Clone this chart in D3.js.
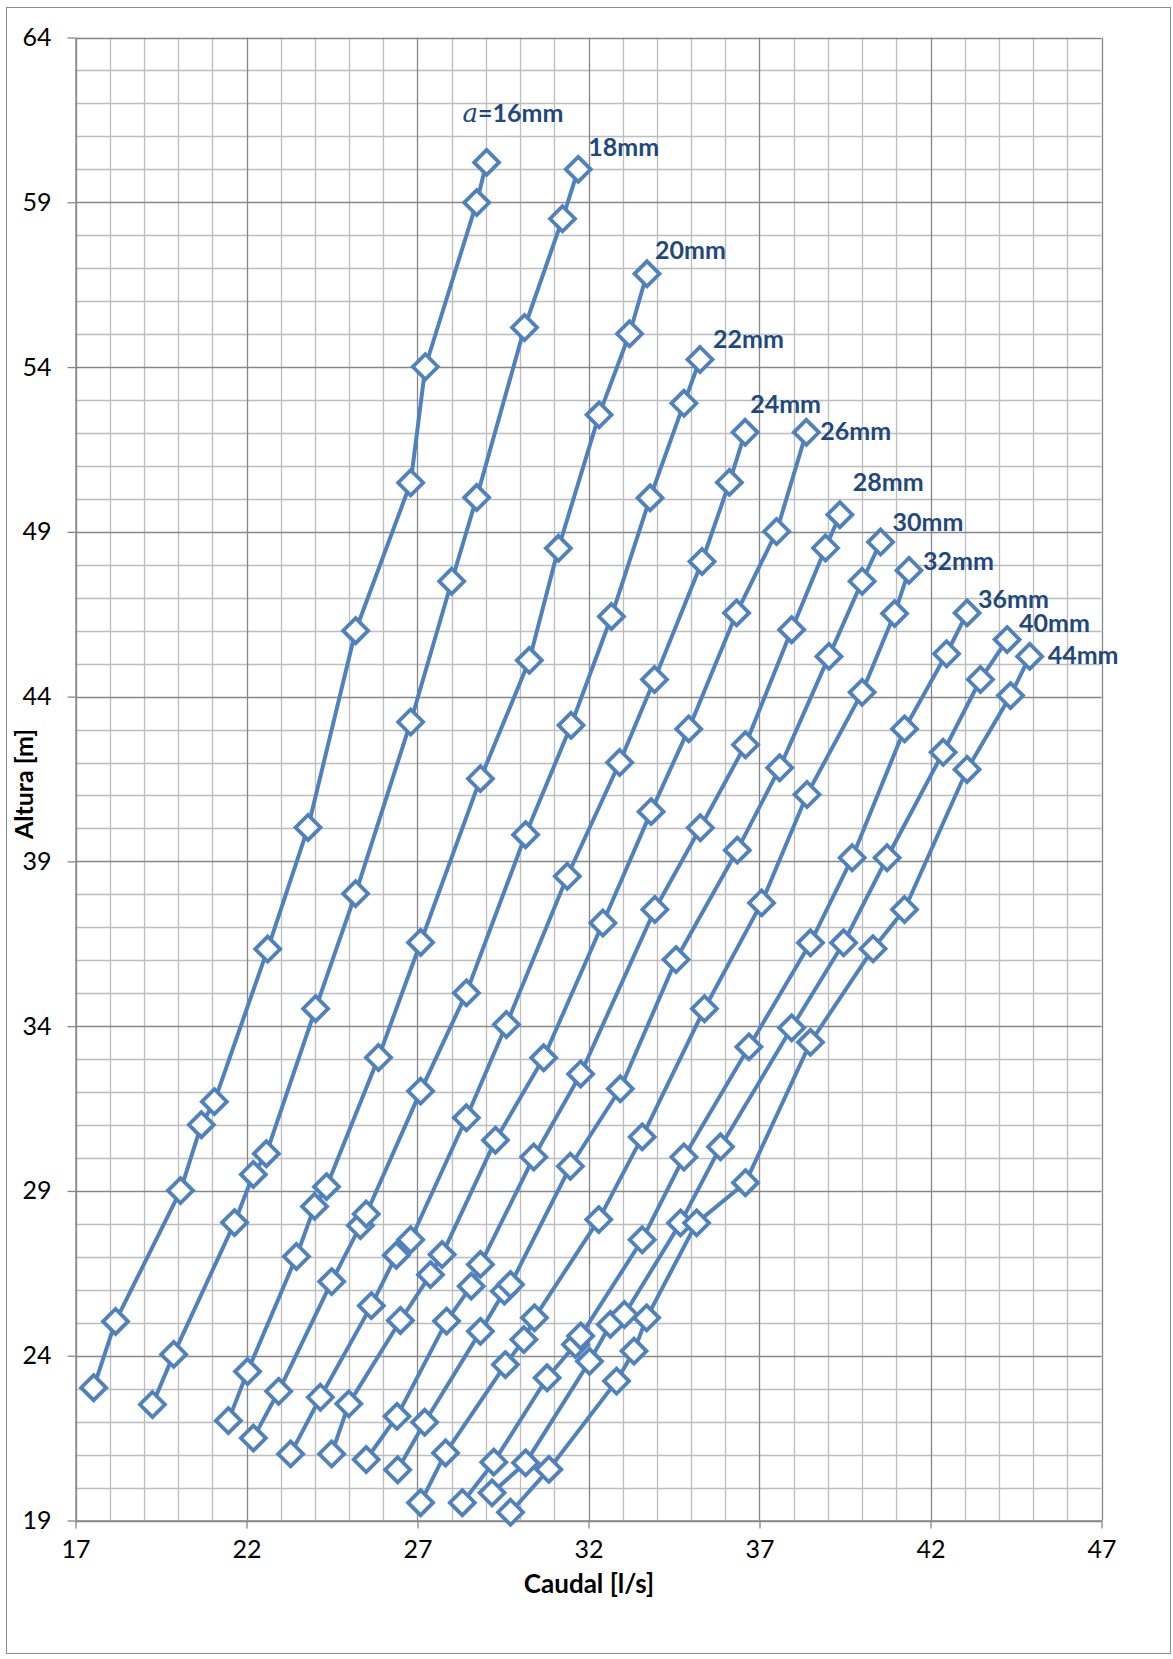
<!DOCTYPE html>
<html>
<head>
<meta charset="utf-8">
<script src="https://cdn.jsdelivr.net/npm/d3@7"></script>
<style>
  body { margin: 0; background: #fff; }
  svg { display: block; }
</style>
</head>
<body>
<div id="chart"></div>
<script>
// series labels
const seriesLabels = ['16mm', '18mm', '20mm', '22mm', '24mm', '26mm', '28mm', '30mm', '32mm', '36mm', '40mm', '44mm'];

// caudal [l/s] and altura [m] per series
const q16 = [17.53, 18.17, 20.07, 20.68, 21.06, 22.62, 23.80, 25.19, 26.80, 27.23, 28.73, 29.02];
const h16 = [23.03, 25.04, 29.01, 31.01, 31.71, 36.34, 40.03, 46.00, 50.49, 54.01, 58.99, 60.21];
const q18 = [19.25, 19.87, 21.65, 22.20, 22.58, 24.02, 25.19, 26.80, 28.00, 28.73, 30.13, 31.24, 31.70];
const h18 = [22.52, 24.04, 28.04, 29.50, 30.13, 34.53, 38.02, 43.23, 47.50, 50.04, 55.20, 58.50, 60.00];
const q20 = [21.47, 22.03, 23.46, 23.99, 24.34, 25.86, 27.09, 28.84, 30.27, 31.12, 32.31, 33.20, 33.71];
const h20 = [22.03, 23.52, 27.01, 28.53, 29.13, 33.05, 36.54, 41.51, 45.10, 48.50, 52.55, 55.01, 56.83];
const q22 = [22.20, 22.94, 24.49, 25.33, 25.50, 27.09, 28.43, 30.16, 31.49, 32.67, 33.80, 34.79, 35.26];
const h22 = [21.50, 22.92, 26.25, 27.95, 28.30, 32.03, 35.01, 39.81, 43.13, 46.43, 50.03, 52.90, 54.23];
const q24 = [23.29, 24.16, 25.65, 26.38, 26.80, 28.43, 29.60, 31.38, 32.91, 33.93, 35.32, 36.12, 36.58];
const h24 = [21.02, 22.74, 25.52, 27.05, 27.52, 31.22, 34.05, 38.55, 42.00, 44.52, 48.10, 50.50, 52.02];
const q26 = [24.49, 24.99, 26.50, 27.38, 27.72, 29.28, 30.69, 32.42, 33.83, 34.93, 36.33, 37.50, 38.37];
const h26 = [21.02, 22.54, 25.07, 26.46, 27.07, 30.54, 33.04, 37.13, 40.51, 43.02, 46.54, 49.01, 52.02];
const q28 = [25.50, 26.40, 27.85, 28.57, 28.84, 30.40, 31.77, 33.94, 35.27, 36.59, 37.94, 38.93, 39.35];
const h28 = [20.85, 22.16, 25.05, 26.11, 26.77, 30.03, 32.55, 37.54, 40.02, 42.54, 46.03, 48.51, 49.52];
const q30 = [26.42, 27.21, 28.84, 29.54, 29.72, 31.47, 32.93, 34.56, 36.35, 37.59, 39.03, 40.00, 40.54];
const h30 = [20.54, 21.98, 24.74, 25.96, 26.16, 29.75, 32.10, 36.02, 39.34, 41.84, 45.22, 47.50, 48.69];
const q32 = [27.09, 27.82, 29.57, 30.11, 30.42, 32.30, 33.57, 35.39, 37.06, 38.39, 40.00, 40.95, 41.37];
const h32 = [19.54, 21.05, 23.73, 24.49, 25.15, 28.13, 30.64, 34.53, 37.74, 41.03, 44.13, 46.52, 47.83];
const q36 = [28.31, 29.23, 30.79, 31.62, 31.77, 33.57, 34.79, 36.69, 38.49, 39.71, 41.24, 42.47, 43.07];
const h36 = [19.54, 20.77, 23.33, 24.34, 24.60, 27.52, 30.03, 33.37, 36.53, 39.11, 43.02, 45.30, 46.54];
const q40 = [29.18, 30.16, 32.03, 32.64, 33.05, 34.69, 35.86, 37.94, 39.46, 40.73, 42.37, 43.46, 44.24];
const h40 = [19.84, 20.75, 23.83, 24.95, 25.25, 28.03, 30.34, 33.95, 36.53, 39.11, 42.31, 44.52, 45.73];
const q44 = [29.72, 30.84, 32.82, 33.33, 33.70, 35.16, 36.59, 38.49, 40.32, 41.24, 43.07, 44.34, 44.90];
const h44 = [19.25, 20.55, 23.23, 24.14, 25.15, 28.03, 29.25, 33.51, 36.35, 37.54, 41.79, 44.03, 45.22];

// axis ticks
const xTicks = [17, 22, 27, 32, 37, 42, 47];
const yTicks = [19, 24, 29, 34, 39, 44, 49, 54, 59, 64];

// label offsets (px) from the last point of each series
const labelDx = [-24, 10, 8, 13, 5, 14, 13, 12, 14, 11, 12, 18];
const labelDy = [-40, -13, -15, -11, -19, 8, -24, -11, 0, -5, -8, 8];

const qAll = [q16, q18, q20, q22, q24, q26, q28, q30, q32, q36, q40, q44];
const hAll = [h16, h18, h20, h22, h24, h26, h28, h30, h32, h36, h40, h44];

const width = 1173, height = 1659;
const blue = '#4F81BD';
const labelBlue = '#1F497D';
const font = 'Lato, Carlito, "Open Sans", sans-serif';

const svg = d3.select('#chart').append('svg')
    .attr('width', width)
    .attr('height', height);

// outer chart border
svg.append('rect')
    .attr('x', 6.5).attr('y', 7.5)
    .attr('width', 1164).attr('height', 1646)
    .attr('fill', 'none')
    .attr('stroke', '#8c8c8c')
    .attr('stroke-width', 1);

const x = d3.scaleLinear().domain([17, 47]).range([75.5, 1101.5]);
const y = d3.scaleLinear().domain([19, 64]).range([1520.5, 37.5]);

// gridlines: minor every 1, major every 5
const grid = svg.append('g');
grid.selectAll('.vminor')
    .data(d3.range(18, 47).filter(v => (v - 17) % 5 !== 0))
    .enter().append('line')
    .attr('x1', d => Math.round(x(d)) + 0.5).attr('x2', d => Math.round(x(d)) + 0.5)
    .attr('y1', y(64)).attr('y2', y(19))
    .attr('stroke', '#bdbdbd')
    .attr('stroke-width', 1.3);
grid.selectAll('.hminor')
    .data(d3.range(20, 64).filter(v => (v - 19) % 5 !== 0))
    .enter().append('line')
    .attr('y1', d => Math.round(y(d)) + 0.5).attr('y2', d => Math.round(y(d)) + 0.5)
    .attr('x1', x(17)).attr('x2', x(47))
    .attr('stroke', '#bdbdbd')
    .attr('stroke-width', 1.3);
grid.selectAll('.vmajor')
    .data(xTicks)
    .enter().append('line')
    .attr('x1', d => Math.round(x(d)) + 0.5).attr('x2', d => Math.round(x(d)) + 0.5)
    .attr('y1', y(64)).attr('y2', y(19))
    .attr('stroke', '#878787')
    .attr('stroke-width', 1.3);
grid.selectAll('.hmajor')
    .data(yTicks)
    .enter().append('line')
    .attr('y1', d => Math.round(y(d)) + 0.5).attr('y2', d => Math.round(y(d)) + 0.5)
    .attr('x1', x(17)).attr('x2', x(47))
    .attr('stroke', '#878787')
    .attr('stroke-width', 1.3);

// axes
const xAxis = svg.append('g')
    .attr('transform', `translate(0,${y(19)})`)
    .call(d3.axisBottom(x).tickValues(xTicks).tickSize(8).tickSizeOuter(0).tickPadding(12));
const yAxis = svg.append('g')
    .attr('transform', `translate(${x(17)},0)`)
    .call(d3.axisLeft(y).tickValues(yTicks).tickSize(8).tickSizeOuter(0).tickPadding(16));

[xAxis, yAxis].forEach(ax => {
    ax.select('.domain').attr('stroke', '#878787').attr('stroke-width', 1.3);
    ax.selectAll('.tick line').attr('stroke', '#878787').attr('stroke-width', 1.3);
    ax.selectAll('.tick text')
        .style('font-family', font)
        .style('font-size', '25px')
        .attr('fill', '#000');
});

// axis titles
svg.append('text')
    .attr('x', 589).attr('y', 1593)
    .attr('text-anchor', 'middle')
    .style('font-family', font)
    .style('font-size', '26px')
    .style('font-weight', 'bold')
    .text('Caudal [l/s]');

svg.append('text')
    .attr('transform', 'translate(33,784) rotate(-90)')
    .attr('text-anchor', 'middle')
    .style('font-family', font)
    .style('font-size', '25px')
    .style('font-weight', 'bold')
    .text('Altura [m]');

// lines and diamond markers
const line = d3.line()
    .x(d => x(d[0]))
    .y(d => y(d[1]));

const r = 12.5;
const diamond = `M0,${-r}L${r},0L0,${r}L${-r},0Z`;

qAll.forEach((qs, i) => {
    const pts = qs.map((q, j) => [q, hAll[i][j]]);
    const g = svg.append('g');

    g.append('path')
        .datum(pts)
        .attr('d', line)
        .attr('fill', 'none')
        .attr('stroke', blue)
        .attr('stroke-width', 4)
        .attr('stroke-linejoin', 'round');

    g.selectAll('path.marker')
        .data(pts)
        .enter().append('path')
        .attr('class', 'marker')
        .attr('d', diamond)
        .attr('transform', d => `translate(${x(d[0])},${y(d[1])})`)
        .attr('fill', '#fff')
        .attr('stroke', blue)
        .attr('stroke-width', 3.8);
});

// series labels next to the last point
seriesLabels.forEach((lab, i) => {
    const n = qAll[i].length - 1;
    const t = svg.append('text')
        .attr('x', x(qAll[i][n]) + labelDx[i])
        .attr('y', y(hAll[i][n]) + labelDy[i])
        .attr('fill', labelBlue)
        .style('font-family', font)
        .style('font-size', '25px')
        .style('font-weight', 'bold');
    if (i === 0) {
        t.append('tspan')
            .style('font-family', '"DejaVu Serif", "Liberation Serif", serif')
            .style('font-style', 'italic')
            .style('font-weight', 'normal')
            .style('font-size', '26px')
            .text('a');
        t.append('tspan').text('=' + lab);
    } else {
        t.text(lab);
    }
});
</script>
</body>
</html>
